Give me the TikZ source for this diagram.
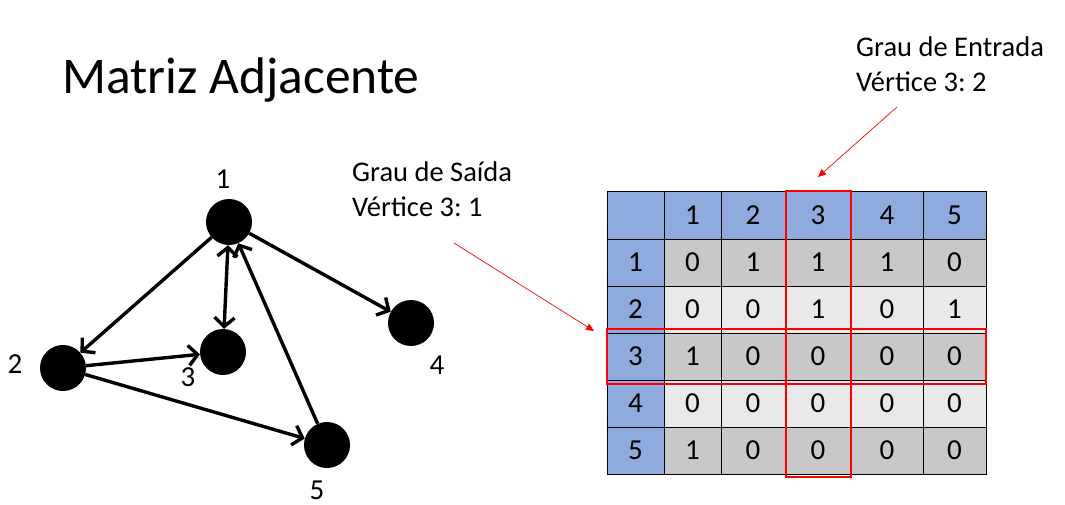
\documentclass[tikz,border=0pt]{standalone}
\usepackage{fontspec}
\setmainfont{Carlito}
\usepackage{tikz}
\usetikzlibrary{positioning, arrows.meta}
\tikzset{vertex/.style={circle, fill=black, minimum size=46pt, inner sep=0pt},
vlabel/.style={inner sep=0pt, font=\fontsize{29}{34}\selectfont},
txt/.style={inner sep=0pt, anchor=base west, font=\fontsize{28.5}{34}\selectfont},
link/.style={line width=3.4pt, -{Straight Barb[length=9pt, width=20pt]}},
cell/.style={draw=black, line width=1pt, inner sep=0pt, minimum height=47pt, font=\fontsize{29}{34}\selectfont},
hint/.style={draw=red, line width=0.7pt, -{Triangle[length=8pt, width=7pt]}},
redbox/.style={draw=red, line width=2.5pt}}
\definecolor{c_head}{RGB}{143,170,220}
\definecolor{c_dark}{RGB}{200,200,200}
\definecolor{c_light}{RGB}{233,233,233}
\def\colx{{607,664,721,785,851,923,986}}
\frenchspacing

\begin{document}
\begin{tikzpicture}[x=1pt, y=-1pt]
\useasboundingbox (0,0) rectangle (1065,505);
\node (title) [txt, font=\fontsize{51.5}{60}\selectfont] at (62,94) {Matriz Adjacente};

% graph
\node (v1) [vertex] at (229,222) {};
\node (v2) [vertex] at (63,368) {};
\node (v3) [vertex] at (223,352) {};
\node (v4) [vertex] at (411,323) {};
\node (v5) [vertex] at (327,445) {};
\node (l1) [vlabel] at (223,179) {1};
\node (l2) [vlabel] at (15,364) {2};
\node (l3) [vlabel] at (188,377) {3};
\node (l4) [vlabel] at (437,365) {4};
\node (l5) [vlabel] at (317,490) {5};
\draw [link] (v1) -- (v2);
\draw [link, {Straight Barb[length=9pt, width=20pt]}-{Straight Barb[length=9pt, width=20pt]}] (v1) -- (v3);
\draw [link] (v1) -- (v4);
\draw [link] (v2) -- (v3);
\draw [link] (v2) -- (v5);
\draw [link] (v5) -- (v1);

% matrix
\foreach \row/\vals/\rowc in {0/{ ,1,2,3,4,5}/c_head, 1/{1,0,1,1,1,0}/c_dark,
  2/{2,0,0,1,0,1}/c_light, 3/{3,1,0,0,0,0}/c_dark,
  4/{4,0,0,0,0,0}/c_light, 5/{5,1,0,0,0,0}/c_dark}{
  \foreach \v [count=\col from 0] in \vals {
    \pgfmathsetmacro\xa{\colx[\col]}
    \pgfmathsetmacro\xb{\colx[\col+1]}
    \pgfmathsetmacro\cw{\xb-\xa}
    \pgfmathsetmacro\cx{(\xa+\xb)/2}
    \pgfmathsetmacro\cy{192+47*\row+23.5}
    \ifnum\col=0 \def\fillc{c_head}\else\def\fillc{\rowc}\fi
    \node (c-\row-\col) [cell, fill=\fillc, minimum width=\cw pt] at (\cx,\cy) {\v};
  }
}
\draw [redbox] (607,329) rectangle (986,384);
\draw [redbox] (786,191) rectangle (851,477);

% notes
\node (sai1) [txt] at (352,182) {Grau de Saída};
\node (sai2) [txt, below=34pt of sai1.base west, anchor=base west] {Vértice 3: 1};
\node (ent1) [txt] at (856,57) {Grau de Entrada};
\node (ent2) [txt, below=35pt of ent1.base west, anchor=base west] {Vértice 3: 2};
\coordinate (h1a) at (454,243);
\coordinate (h1b) at (594,331);
\coordinate (h2a) at (897,107);
\coordinate (h2b) at (818,177);
\draw [hint] (h1a) -- (h1b);
\draw [hint] (h2a) -- (h2b);
\end{tikzpicture}
\end{document}
